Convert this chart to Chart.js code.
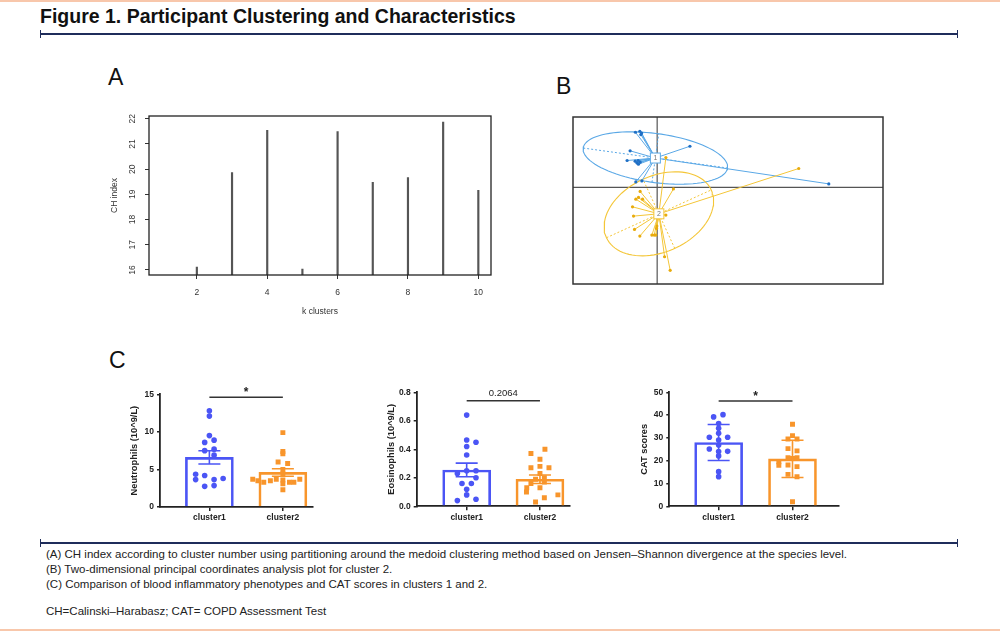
<!DOCTYPE html>
<html>
<head>
<meta charset="utf-8"/>
<script src="https://cdn.jsdelivr.net/npm/chart.js@4.4.1/dist/chart.umd.min.js"></script>
<style>
  body { margin: 0; padding: 0; width: 1000px; height: 631px; position: relative; overflow: hidden; background: #fff;
         font-family: Arial, "Liberation Sans", sans-serif; color: #111; }
  .abs { position: absolute; }
  .peach { left: 0; width: 1000px; height: 2px; background: #f8c7ab; }
  .rule { left: 40px; width: 918px; height: 2px; background: #1f2d5b; }
  .rule:before, .rule:after { content: ""; position: absolute; top: -3px; width: 1px; height: 8px; background: #1f2d5b; }
  .rule:before { left: 0; }
  .rule:after { right: 0; }
  #title { left: 40px; top: 5px; font-weight: bold; font-size: 19.5px; white-space: nowrap; }
  .panel { font-size: 23px; color: #111; }
  .cap { left: 46px; font-size: 11.5px; color: #222; white-space: nowrap; }
</style>
</head>
<body>
<div class="abs peach" style="top:0"></div>
<div class="abs" id="title">Figure 1. Participant Clustering and Characteristics</div>
<div class="abs rule" style="top:33px"></div>

<div class="abs panel" style="left:108px;top:64px">A</div>
<div class="abs panel" style="left:556px;top:73px">B</div>
<div class="abs panel" style="left:109px;top:347px">C</div>

<canvas class="abs" id="chA" width="400" height="230" style="left:100px;top:100px"></canvas>
<canvas class="abs" id="chB" width="340" height="200" style="left:560px;top:100px"></canvas>
<canvas class="abs" id="chC1" width="200" height="150" style="left:120px;top:380px"></canvas>
<canvas class="abs" id="chC2" width="230" height="150" style="left:350px;top:380px"></canvas>
<canvas class="abs" id="chC3" width="220" height="150" style="left:630px;top:380px"></canvas>

<div class="abs rule" style="top:542px"></div>
<div class="abs cap" style="top:548px">(A) CH index according to cluster number using partitioning around the medoid clustering method based on Jensen–Shannon divergence at the species level.</div>
<div class="abs cap" style="top:563px">(B) Two-dimensional principal coordinates analysis plot for cluster 2.</div>
<div class="abs cap" style="top:578px">(C) Comparison of blood inflammatory phenotypes and CAT scores in clusters 1 and 2.</div>
<div class="abs cap" style="top:605px">CH=Calinski–Harabasz; CAT= COPD Assessment Test</div>
<div class="abs peach" style="top:629px"></div>

<script>
// ---------- data ----------
// A: CH index by number of clusters
const kClusters = [2, 3, 4, 5, 6, 7, 8, 9, 10];
const chIndex = [16.11, 19.86, 21.54, 16.03, 21.49, 19.48, 19.67, 21.87, 19.16];
const kTicks = [2, 4, 6, 8, 10];
const chTicks = [16, 17, 18, 19, 20, 21, 22];

// B: PCoA coordinates (axis 1, axis 2)
const c1X = [-0.217, -0.173, -0.163, -0.155, -0.27, 0.327, -0.30, -0.22, -0.203, -0.187, -0.17, -0.19, -0.153, -0.213, 1.713];
const c1Y = [0.553, 0.563, 0.53, 0.545, 0.367, 0.413, 0.27, 0.263, 0.247, 0.233, 0.253, 0.27, 0.066, 0.056, 0.036];
const c2X = [0.087, 0.162, -0.17, -0.186, -0.146, -0.213, -0.246, -0.236, -0.226, -0.173, -0.053, -0.03, -0.013, -0.006, -0.003, 0.087, 0.074, 0.13, 1.413];
const c2Y = [0.30, -0.015, -0.04, -0.10, -0.117, -0.117, -0.194, -0.287, -0.42, -0.487, -0.477, -0.477, -0.477, -0.41, -0.387, -0.277, -0.694, -0.83, 0.19];
const centroidX = [-0.018, 0.017];
const centroidY = [0.295, -0.264];
const ellMajor = [0.727, 0.575];
const ellMinor = [0.245, 0.381];
const ellAngle = [-7.9, 24.6];

// C: blood phenotypes and CAT scores
const groups = ['cluster1', 'cluster2'];
const neut1 = [12.8, 12.1, 9.5, 8.6, 8.9, 7.5, 7.7, 6.9, 4.35, 3.65, 4.2, 3.65, 2.85, 2.75, 3.8];
const neut1X = [1, 1, 1, 0.936, 1.064, 0.936, 1.064, 1.064, 0.813, 0.813, 0.936, 1.064, 1.064, 0.936, 1.187];
const neut2 = [9.9, 7.4, 7.1, 6.0, 5.8, 5.0, 4.4, 3.7, 3.5, 3.3, 3.5, 3.7, 3.6, 3.3, 3.3, 3.7, 3.1, 2.3];
const neut2X = [2, 2, 2, 1.935, 2.065, 2, 2, 1.59, 1.66, 1.74, 1.83, 1.91, 2.0, 2.09, 2.15, 2.23, 2.0, 2.0];
const neutMean = [6.6, 4.6];
const neutSem = [0.88, 0.5];

const eos1 = [0.64, 0.465, 0.45, 0.42, 0.36, 0.23, 0.25, 0.25, 0.20, 0.16, 0.16, 0.12, 0.08, 0.04, 0.05];
const eos1X = [1, 1, 1.127, 1, 1, 0.873, 1, 1.127, 1.127, 0.936, 1.064, 1, 1, 0.873, 1.127];
const eos2 = [0.40, 0.37, 0.33, 0.28, 0.27, 0.27, 0.23, 0.19, 0.20, 0.16, 0.17, 0.13, 0.13, 0.10, 0.08, 0.06, 0.03];
const eos2X = [2.068, 1.877, 2, 2, 1.877, 2.123, 2, 1.94, 2.06, 1.877, 2.06, 1.82, 2, 1.816, 2.245, 2.06, 1.94];
const eosMean = [0.255, 0.19];
const eosSem = [0.048, 0.03];

const cat1 = [39.2, 40.2, 36.3, 34.2, 32, 30.3, 30.3, 29.1, 26.9, 25.1, 24.1, 24, 22.1, 15.2, 13];
const cat1X = [0.932, 1.059, 1, 1, 1, 0.874, 1.122, 1, 1, 0.874, 1.122, 1, 1, 1, 1];
const cat2 = [36, 31, 29.5, 29.5, 25.3, 24.3, 21.3, 21.3, 19.5, 18, 18.1, 17.4, 14, 13, 2, 21];
const cat2X = [2, 2, 1.939, 2.061, 1.939, 2.061, 1.939, 2.061, 1.815, 1.815, 1.939, 2.061, 1.939, 2.061, 2, 2];
const catMean = [28, 20.8];
const catSd = [7.9, 8.2];

// ---------- setup ----------
const FONT = 'Arial, "Liberation Sans", sans-serif';
Chart.defaults.font.family = FONT;
Chart.defaults.animation = false;
Chart.defaults.responsive = false;
Chart.defaults.plugins.legend.display = false;
Chart.defaults.plugins.tooltip.enabled = false;

const BLUE = '#4b55f5', ORANGE = '#f8952b';
const toTicks = list => s => { s.ticks = list.map(v => ({value: v})); };

// ---------- A ----------
const framePlugin = {
  id: 'frame',
  afterDraw(chart) {
    const {ctx, chartArea: a} = chart;
    ctx.save();
    ctx.strokeStyle = '#222';
    ctx.lineWidth = 1.3;
    ctx.strokeRect(a.left, a.top, a.right - a.left, a.bottom - a.top);
    ctx.restore();
  }
};

new Chart(document.getElementById('chA'), {
  type: 'bar',
  data: {
    datasets: [{
      data: kClusters.map((k, i) => ({x: k, y: chIndex[i]})),
      backgroundColor: '#555',
      barThickness: 1.5
    }]
  },
  options: {
    layout: {padding: {top: 16, right: 9, left: 0, bottom: 0}},
    scales: {
      x: {
        type: 'linear', min: 0.64, max: 10.36, offset: false,
        afterBuildTicks: toTicks(kTicks),
        afterFit: s => { s.height = 55; },
        border: {display: false},
        grid: {offset: false, drawOnChartArea: false, tickLength: 4, color: '#333', lineWidth: 1},
        ticks: {padding: 9, color: '#333', font: {size: 8.5}, maxRotation: 0},
        title: {display: true, text: 'k clusters', color: '#333', font: {size: 8.5}, padding: {top: 0, bottom: 13}}
      },
      y: {
        min: 15.8, max: 22.11,
        afterBuildTicks: toTicks(chTicks),
        afterFit: s => { s.width = 49; },
        border: {display: false},
        grid: {drawOnChartArea: false, tickLength: 4, color: '#333', lineWidth: 1},
        ticks: {minRotation: 90, maxRotation: 90, crossAlign: 'center', padding: 8, color: '#333', font: {size: 8.5}},
        title: {display: true, text: 'CH index', color: '#333', font: {size: 8.5}, padding: {top: 10, bottom: 0}}
      }
    }
  },
  plugins: [framePlugin]
});

// ---------- B ----------
function starLines(xs, ys, i) {
  const out = [];
  xs.forEach((x, j) => {
    out.push({x: centroidX[i], y: centroidY[i]}, {x: x, y: ys[j]}, {x: null, y: null});
  });
  return out;
}
function ellipseLine(i) {
  const pts = [];
  const r = ellAngle[i] * Math.PI / 180;
  for (let d = 0; d <= 360; d += 4) {
    const t = d * Math.PI / 180;
    const u = ellMajor[i] * Math.cos(t), v = ellMinor[i] * Math.sin(t);
    pts.push({x: centroidX[i] + u * Math.cos(r) - v * Math.sin(r), y: centroidY[i] + u * Math.sin(r) + v * Math.cos(r)});
  }
  return pts;
}
function ellipseAxes(i) {
  const r = ellAngle[i] * Math.PI / 180;
  const cx = centroidX[i], cy = centroidY[i];
  const ax = ellMajor[i] * Math.cos(r), ay = ellMajor[i] * Math.sin(r);
  const bx = -ellMinor[i] * Math.sin(r), by = ellMinor[i] * Math.cos(r);
  return [{x: cx - ax, y: cy - ay}, {x: cx + ax, y: cy + ay}, {x: null, y: null},
          {x: cx - bx, y: cy - by}, {x: cx + bx, y: cy + by}];
}
const bCol = {line: '#5aa8e6', pt: '#1f6fc5'};
const yCol = {line: '#f4c638', pt: '#e8ab0c'};

const pcoaPlugin = {
  id: 'pcoa',
  beforeDatasetsDraw(chart) {
    const {ctx, chartArea: a, scales: {x, y}} = chart;
    const x0 = x.getPixelForValue(0), y0 = y.getPixelForValue(0);
    ctx.save();
    ctx.strokeStyle = '#555';
    ctx.lineWidth = 1.2;
    ctx.beginPath();
    ctx.moveTo(x0, a.top); ctx.lineTo(x0, a.bottom);
    ctx.moveTo(a.left, y0); ctx.lineTo(a.right, y0);
    ctx.stroke();
    ctx.restore();
  },
  afterDatasetsDraw(chart) {
    const {ctx, scales: {x, y}} = chart;
    ctx.save();
    [bCol, yCol].forEach((c, i) => {
      const px = x.getPixelForValue(centroidX[i]), py = y.getPixelForValue(centroidY[i]);
      ctx.fillStyle = '#fff';
      ctx.fillRect(px - 5, py - 5, 10, 10);
      ctx.strokeStyle = c.line;
      ctx.lineWidth = 1;
      ctx.strokeRect(px - 5, py - 5, 10, 10);
      ctx.fillStyle = '#777';
      ctx.font = '7px ' + FONT;
      ctx.textAlign = 'center';
      ctx.textBaseline = 'middle';
      ctx.fillText(String(i + 1), px, py + 0.5);
    });
    ctx.restore();
  },
  afterDraw(chart) {
    const {ctx, chartArea: a} = chart;
    ctx.save();
    ctx.strokeStyle = '#333';
    ctx.lineWidth = 1.5;
    ctx.strokeRect(a.left, a.top, a.right - a.left, a.bottom - a.top);
    ctx.restore();
  }
};

const lineDs = (data, color, width, dash) => ({
  data, showLine: true, pointRadius: 0, borderColor: color, borderWidth: width,
  borderDash: dash || [], fill: false, tension: 0, spanGaps: false
});

new Chart(document.getElementById('chB'), {
  type: 'scatter',
  data: {
    datasets: [
      {data: c2X.map((v, j) => ({x: v, y: c2Y[j]})), pointRadius: 1.6, backgroundColor: yCol.pt, borderWidth: 0},
      {data: c1X.map((v, j) => ({x: v, y: c1Y[j]})), pointRadius: 1.6, backgroundColor: bCol.pt, borderWidth: 0},
      lineDs(starLines(c2X, c2Y, 1), yCol.line, 1),
      lineDs(starLines(c1X, c1Y, 0), bCol.line, 1),
      lineDs(ellipseLine(1), yCol.line, 1.1),
      lineDs(ellipseLine(0), bCol.line, 1.1),
      lineDs(ellipseAxes(1), yCol.line, 1, [2, 2]),
      lineDs(ellipseAxes(0), bCol.line, 1, [2, 2])
    ]
  },
  options: {
    layout: {padding: {left: 13, right: 17, top: 17, bottom: 16}},
    scales: {
      x: {type: 'linear', display: false, min: -0.84, max: 2.254},
      y: {type: 'linear', display: false, min: -0.967, max: 0.706}
    }
  },
  plugins: [pcoaPlugin]
});

// ---------- C ----------
function dotChart(id, o) {
  const sigPlugin = {
    id: 'bars' + id,
    afterDatasetsDraw(chart) {
      const {ctx, scales: {x, y}} = chart;
      ctx.save();
      o.mean.forEach((m, i) => {
        const px = x.getPixelForValue(i + 1);
        const hi = y.getPixelForValue(m + o.err[i]), lo = y.getPixelForValue(m - o.err[i]);
        ctx.strokeStyle = [BLUE, ORANGE][i];
        ctx.lineWidth = 1.6;
        ctx.beginPath();
        ctx.moveTo(px, hi); ctx.lineTo(px, lo);
        ctx.moveTo(px - 11, hi); ctx.lineTo(px + 11, hi);
        ctx.moveTo(px - 11, lo); ctx.lineTo(px + 11, lo);
        ctx.stroke();
      });
      const sy = y.getPixelForValue(o.sigAt);
      const xa = x.getPixelForValue(1), xb = x.getPixelForValue(2);
      ctx.strokeStyle = '#333';
      ctx.lineWidth = 1.5;
      ctx.beginPath();
      ctx.moveTo(xa, sy); ctx.lineTo(xb, sy);
      ctx.stroke();
      ctx.fillStyle = '#222';
      ctx.textAlign = 'center';
      ctx.textBaseline = 'alphabetic';
      if (o.sigText === '*') {
        ctx.font = 'bold 12px ' + FONT;
        ctx.fillText('*', (xa + xb) / 2, sy - 1);
      } else {
        ctx.font = '9.5px ' + FONT;
        ctx.fillText(o.sigText, (xa + xb) / 2, sy - 4.5);
      }
      ctx.restore();
    }
  };
  new Chart(document.getElementById(id), {
    type: 'bar',
    data: {
      datasets: [
        {type: 'scatter', order: 0, data: o.v1.map((v, j) => ({x: o.x1[j], y: v})),
         pointStyle: 'circle', pointRadius: 2.8, backgroundColor: BLUE, borderWidth: 0},
        {type: 'scatter', order: 0, data: o.v2.map((v, j) => ({x: o.x2[j], y: v})),
         pointStyle: 'rect', pointRadius: 3.5, backgroundColor: ORANGE, borderWidth: 0},
        {type: 'bar', order: 1, data: o.mean.map((m, i) => ({x: i + 1, y: m})),
         backgroundColor: 'rgba(255,255,255,0)', borderColor: [BLUE, ORANGE], borderWidth: 2,
         barThickness: 48, borderSkipped: 'start'}
      ]
    },
    options: {
      layout: {padding: {top: o.top, right: o.right, left: o.left, bottom: 0}},
      scales: {
        x: {
          type: 'linear', min: o.xMin, max: o.xMax, offset: false,
          afterBuildTicks: toTicks([1, 2]),
          afterFit: s => { s.height = o.xh; },
          border: {display: true, color: '#222', width: 1.8},
          grid: {offset: false, drawOnChartArea: false, tickLength: 4, color: '#222', lineWidth: 1.5},
          ticks: {padding: 2, color: '#222', maxRotation: 0, font: {size: 8.5, weight: 'bold'},
                  callback: v => groups[v - 1]}
        },
        y: {
          min: 0, max: o.yMax,
          afterBuildTicks: toTicks(o.yTicks),
          afterFit: s => { s.width = o.yw; },
          border: {display: true, color: '#222', width: 1.8},
          grid: {drawOnChartArea: false, tickLength: 3, color: '#222', lineWidth: 1.5},
          ticks: {padding: 3, color: '#222', font: {size: 8.5, weight: 'bold'},
                  callback: v => o.dec ? v.toFixed(o.dec) : String(v)},
          title: {display: true, text: o.title, color: '#222', font: {size: 9.3, weight: 'bold'},
                  padding: {top: 9, bottom: 0}}
        }
      }
    },
    plugins: [sigPlugin]
  });
}

dotChart('chC1', {v1: neut1, x1: neut1X, v2: neut2, x2: neut2X, mean: neutMean, err: neutSem,
  yMax: 15, yTicks: [0, 5, 10, 15], dec: 0, title: 'Neutrophils (10^9/L)',
  sigAt: 14.6, sigText: '*', xMin: 0.328, xMax: 2.41,
  top: 14.3, right: 7, left: 0, yw: 40, xh: 23});
dotChart('chC2', {v1: eos1, x1: eos1X, v2: eos2, x2: eos2X, mean: eosMean, err: eosSem,
  yMax: 0.8, yTicks: [0, 0.2, 0.4, 0.6, 0.8], dec: 1, title: 'Eosinophils (10^9/L)',
  sigAt: 0.741, sigText: '0.2064', xMin: 0.318, xMax: 2.41,
  top: 12.3, right: 10, left: 26.7, yw: 40, xh: 23.7});
dotChart('chC3', {v1: cat1, x1: cat1X, v2: cat2, x2: cat2X, mean: catMean, err: catSd,
  yMax: 50, yTicks: [0, 10, 20, 30, 40, 50], dec: 0, title: 'CAT scores',
  sigAt: 46.2, sigText: '*', xMin: 0.332, xMax: 2.62,
  top: 12.3, right: 11.7, left: 0, yw: 39.3, xh: 23.7});
</script>
</body>
</html>
